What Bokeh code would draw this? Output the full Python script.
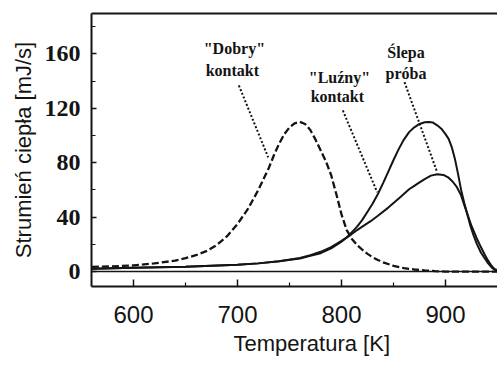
from bokeh.plotting import figure
from bokeh.models import (Range1d, SingleIntervalTicker, FixedTicker, LinearAxis,
                          Span, Label, Title)
from bokeh.embed import file_html
from bokeh.resources import INLINE

# ---- data ----
t_dobry = [560, 580, 600, 620, 640, 650, 660, 670, 680, 690, 700, 705, 710, 715, 720,
           725, 730, 735, 740, 745, 750, 755, 760, 765, 770, 775, 780, 785, 790, 795,
           800, 805, 810, 815, 820, 825, 830, 835, 840, 850, 860, 870, 880, 890, 900, 950]
q_dobry = [3.5, 3.8, 4.5, 6, 8, 9.8, 12, 15, 19.5, 26, 35, 40.5, 46, 53, 60,
           68, 76, 85.5, 94, 101, 106, 109, 110, 108.5, 104, 97, 89, 81, 71, 57,
           42, 30.5, 24, 19.5, 16, 13, 10.5, 8.5, 6.8, 4.2, 2.5, 1.5, 0.8, 0.3, 0, 0]

t_luzny = [560, 600, 650, 700, 720, 740, 760, 770, 780, 790, 800, 805, 810, 815, 820,
           825, 830, 835, 840, 845, 850, 855, 860, 865, 870, 875, 880, 884, 888, 892,
           896, 900, 903, 906, 909, 912, 915, 918, 921, 924, 927, 930, 934, 937, 941,
           945, 950]
q_luzny = [2, 2.8, 3.5, 5, 6, 7.5, 9.5, 11.5, 13.5, 17, 22, 25, 29, 33, 38,
           44, 50, 57, 65, 73.5, 82, 90, 97, 102.5, 106, 108.5, 109.8, 110, 109.5, 107.5,
           105, 101, 97.5, 91.5, 83, 72, 60, 50.5, 42, 33.5, 26.5, 20.5, 14, 10.5, 6,
           2.5, 0.3]

t_slepa = [560, 600, 650, 700, 720, 740, 760, 770, 780, 790, 800, 809, 815, 820, 828,
           835, 845, 857, 865, 870, 875, 880, 886, 892, 898, 903, 907, 911, 915, 918,
           921, 925, 930, 934, 938, 941, 944, 947, 950]
q_slepa = [2, 2.8, 3.5, 5, 6, 7.5, 10, 12, 14.5, 18, 22.5, 27, 30.5, 33, 37,
           41, 47, 55, 60.5, 63, 65.5, 68, 70.5, 71.5, 71, 69, 66, 62, 56, 49,
           42.4, 33.5, 24.5, 18, 12, 8, 4.4, 2, 0.8]

x_ticks = [600, 700, 800, 900]
x_minor = [650, 750, 850]
y_ticks = [0, 40, 80, 120, 160]
x_title = "Temperatura [K]"
y_title = "Strumień ciepła [mJ/s]"

# annotation texts (text, x, baseline y in data coords) and leader lines
ann_lines = [('"Dobry"', 697, 164), ("kontakt", 695, 147.8),
             ('"Luźny"', 798, 143), ("kontakt", 796, 128.7),
             ("Ślepa", 862, 161), ("próba", 862, 145.6)]
lead_x0 = [701.3, 801.3, 860.6]
lead_y0 = [136.8, 118.4, 139.2]
lead_x1 = [729.5, 834.3, 892.0]
lead_y1 = [84.0, 58.3, 73.0]

INK = "#141414"
SERIF = "Liberation Serif"
NARROW = "'Liberation Sans Narrow', 'Liberation Sans'"

p = figure(width=497, height=365, output_backend="svg", toolbar_location=None,
           x_range=Range1d(559.6, 950.0), y_range=Range1d(-11.0, 189.7),
           min_border_left=91, min_border_right=0, min_border_top=13,
           min_border_bottom=79, y_axis_label=y_title)
p.outline_line_color = None
p.xgrid.visible = False
p.ygrid.visible = False
p.background_fill_color = "white"
p.border_fill_color = "white"

xa = p.xaxis[0]
xa.ticker = FixedTicker(ticks=x_ticks, minor_ticks=x_minor)
ya = p.yaxis[0]
ya.ticker = SingleIntervalTicker(interval=40, num_minor_ticks=2)
for ax in (xa, ya):
    ax.axis_line_width = 2
    ax.axis_line_color = INK
    ax.major_tick_out = 0
    ax.minor_tick_out = 0
    ax.major_tick_line_color = INK
    ax.minor_tick_line_color = INK
    ax.major_tick_line_width = 1.5
    ax.minor_tick_line_width = 1.2
    ax.major_label_text_color = INK
    ax.axis_label_text_font = "Liberation Sans"
    ax.axis_label_text_font_style = "normal"
    ax.axis_label_text_font_size = "22px"
    ax.axis_label_text_color = INK
xa.major_label_text_font = NARROW
xa.major_label_text_font_style = "normal"
xa.major_label_text_font_size = "24px"
ya.major_label_text_font = SERIF
ya.major_label_text_font_style = "bold"
ya.major_label_text_font_size = "24px"
xa.major_tick_in = 7
xa.minor_tick_in = 4
xa.major_label_standoff = 19
ya.major_tick_in = 5
ya.minor_tick_in = 4
ya.major_label_standoff = 11
ya.axis_label_standoff = 6

top = LinearAxis(ticker=FixedTicker(ticks=[]), axis_line_width=2,
                 axis_line_color=INK, major_tick_in=0, major_tick_out=0,
                 minor_tick_in=0, minor_tick_out=0)
p.add_layout(top, "above")

# x-axis title, placed off-centre as in the reference
p.add_layout(Title(text=x_title, align="left", offset=142, standoff=6,
                   text_font="Liberation Sans", text_font_size="22px",
                   text_font_style="normal", text_color=INK), "below")

p.add_layout(Span(location=0, dimension="width", line_color=INK, line_width=1.6))

p.line(t_dobry, q_dobry, line_color=INK, line_width=2.3, line_dash="7 3")
p.line(t_luzny, q_luzny, line_color=INK, line_width=2)
p.line(t_slepa, q_slepa, line_color=INK, line_width=2)

p.segment(lead_x0, lead_y0, lead_x1, lead_y1, line_color=INK, line_width=2,
          line_dash="2 2")

for txt, tx, ty in ann_lines:
    p.add_layout(Label(x=tx, y=ty, text=txt, text_align="center",
                       text_baseline="alphabetic", text_font=SERIF,
                       text_font_style="bold", text_font_size="16px",
                       text_color=INK))

open("out.html", "w").write(file_html(p, INLINE))
